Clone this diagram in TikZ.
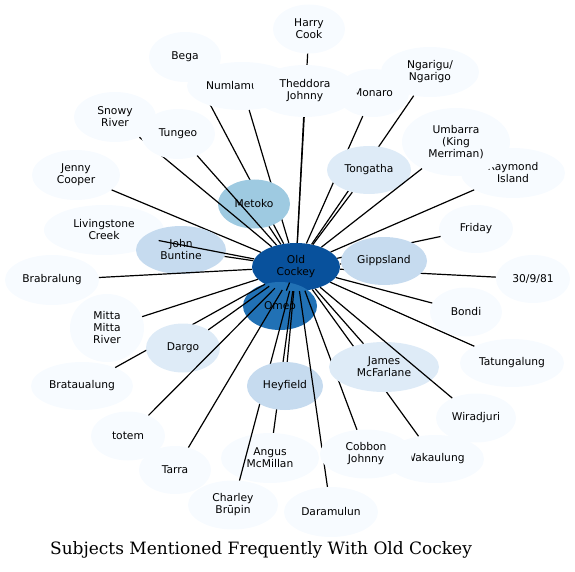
\documentclass[tikz,border=0pt]{standalone}
\usepackage{fontspec}
\usetikzlibrary{shapes.geometric}
\newfontfamily\labfont{DejaVu Sans}
\newfontfamily\titlefont{DejaVu Serif}
\definecolor{blueA}{HTML}{F7FBFF}
\definecolor{blueB}{HTML}{DEEBF7}
\definecolor{blueC}{HTML}{C6DBEF}
\definecolor{blueD}{HTML}{9ECAE1}
\definecolor{blueG}{HTML}{2171B5}
\definecolor{blueH}{HTML}{08519C}
\tikzset{
  topic/.style={ellipse, fill=blueA, inner sep=0pt, align=center,
    font=\labfont\fontsize{10.7}{12}\selectfont},
  sz/.style 2 args={minimum width=#1pt, minimum height=#2pt},
  link/.style={line width=1.2pt}
}

\begin{document}
\begin{tikzpicture}[x=1pt,y=-1pt]

    \useasboundingbox (0,0) rectangle (575,572);

    \node[topic,sz={88}{48},fill=blueH] (oc) at (296,267) {Old\\Cockey};
    \node[topic,sz={74}{48},fill=blueG] (omeo) at (280,306) {Omeo};

    \node[topic,sz={72}{50}] (bega) at (185,57) {Bega};
    \draw[link] (oc)--(bega);

    \node[topic,sz={72}{49}] (harry) at (309,29) {Harry\\Cook};
    \draw[link] (oc)--(harry);

    \node[topic,sz={72}{48}] (monaro) at (373,93) {Monaro};
    \draw[link] (oc)--(monaro);

    \node[topic,sz={98}{50}] (ngarigu) at (430,72) {Ngarigu/\\Ngarigo};
    \draw[link] (oc)--(ngarigu);

    \node[topic,sz={110}{48},text width=72pt,align=left] (numlamu) at (242,86) {Numlamu};
    \draw[link] (oc)--(numlamu);

    \node[topic,sz={104}{52}] (theddora) at (305,91) {Theddora\\Johnny};
    \draw[link] (oc)--(theddora);

    \node[topic,sz={72}{49},fill=blueD] (metoko) at (254,204) {Metoko};
    \draw[link] (oc)--(metoko);

    \node[topic,sz={82}{50}] (snowy) at (115,117) {Snowy\\River};
    \draw[link] (oc)--(snowy);

    \node[topic,sz={74}{50}] (tungeo) at (178,134) {Tungeo};
    \draw[link] (oc)--(tungeo);

    \node[topic,sz={84}{48},fill=blueB] (tongatha) at (369,170) {Tongatha};
    \draw[link] (oc)--(tongatha);

    \node[topic,sz={104}{50}] (raymond) at (513,173) {Raymond\\Island};
    \node[topic,sz={108}{68}] (umbarra) at (456,142) {Umbarra\\(King\\Merriman)};
    \draw[link] (oc)--(raymond);
    \draw[link] (oc)--(umbarra);

    \node[topic,sz={74}{48}] (friday) at (476,229) {Friday};
    \node[topic,sz={74}{48}] (date) at (533,279) {30/9/81};
    \draw[link] (oc)--(friday);
    \draw[link] (oc)--(date);

    \node[topic,sz={86}{48},fill=blueC] (gippsland) at (384,261) {Gippsland};
    \draw[link] (oc)--(gippsland);

    \node[topic,sz={88}{50}] (jenny) at (76,175) {Jenny\\Cooper};
    \draw[link] (oc)--(jenny);

    \node[topic,sz={120}{50}] (livingstone) at (104,230) {Livingstone\\Creek};
    \node[topic,sz={90}{48},fill=blueC] (buntine) at (181,250) {John\\Buntine};
    \draw[link] (oc)--(livingstone);
    \draw[link] (oc)--(buntine);

    \node[topic,sz={94}{50}] (brabralung) at (52,280) {Brabralung};
    \draw[link] (oc)--(brabralung);

    \node[topic,sz={74}{68}] (mitta) at (107,328) {Mitta\\Mitta\\River};
    \draw[link] (oc)--(mitta);

    \node[topic,sz={102}{48}] (brataualung) at (82,386) {Brataualung};
    \draw[link] (oc)--(brataualung);

    \node[topic,sz={74}{49},fill=blueB] (dargo) at (183,348) {Dargo};
    \draw[link] (oc)--(dargo);

    \node[topic,sz={74}{49}] (totem) at (128,436) {totem};
    \node[topic,sz={72}{48}] (tarra) at (175,470) {Tarra};
    \draw[link] (oc)--(totem);
    \draw[link] (oc)--(tarra);

    \node[topic,sz={98}{50}] (angus) at (270,458) {Angus\\McMillan};
    \node[topic,sz={90}{49}] (charley) at (233,505) {Charley\\Brūpin};
    \draw[link] (oc)--(angus);
    \draw[link] (oc)--(charley);

    \node[topic,sz={76}{48},fill=blueC] (heyfield) at (285,386) {Heyfield};
    \draw[link] (oc)--(heyfield);

    \node[topic,sz={94}{50}] (daramulun) at (331,512) {Daramulun};
    \draw[link] (oc)--(daramulun);

    \node[topic,sz={98}{48}] (wakaulung) at (435,459) {Wakaulung};
    \node[topic,sz={92}{49}] (cobbon) at (366,454) {Cobbon\\Johnny};
    \draw[link] (oc)--(wakaulung);
    \draw[link] (oc)--(cobbon);

    \node[topic,sz={110}{50},fill=blueB] (james) at (384,367) {James\\McFarlane};
    \draw[link] (oc)--(james);

    \node[topic,sz={80}{49}] (wiradjuri) at (476,418) {Wiradjuri};
    \draw[link] (oc)--(wiradjuri);

    \node[topic,sz={72}{49}] (bondi) at (466,312) {Bondi};
    \node[topic,sz={104}{48}] (tatungalung) at (512,363) {Tatungalung};
    \draw[link] (oc)--(bondi);
    \draw[link] (oc)--(tatungalung);

    \draw[link] (oc)--(omeo);

    \node[font=\titlefont\fontsize{17}{20}\selectfont] (title) at (261,550) {Subjects Mentioned Frequently With Old Cockey};

\end{tikzpicture}
\end{document}
